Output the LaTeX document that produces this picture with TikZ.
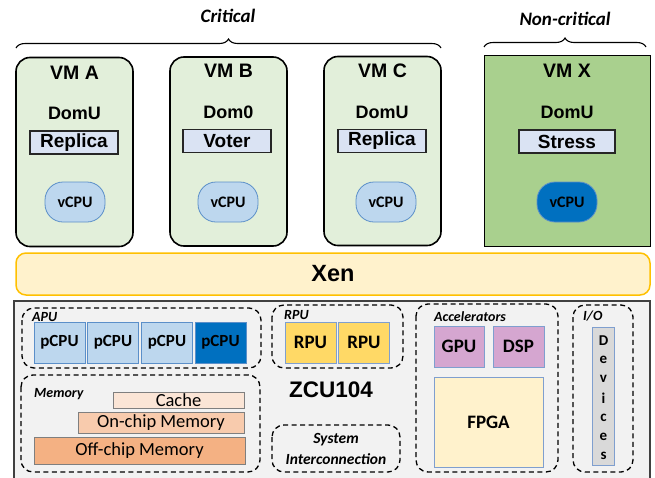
\documentclass[tikz,border=0pt]{standalone}
\usepackage{fontspec}
\setmainfont{Liberation Sans}
\newfontfamily\calfont{Carlito}
\usetikzlibrary{decorations.pathreplacing}
\definecolor{vmgreen}{HTML}{E2EFDA}
\definecolor{vmxgreen}{HTML}{A9D08E}
\definecolor{appblue}{HTML}{DAE3F3}
\definecolor{cpulight}{HTML}{BDD7EE}
\definecolor{cpudark}{HTML}{0070C0}
\definecolor{cpuedge}{HTML}{5B8FC9}
\definecolor{xenfill}{HTML}{FFF2CC}
\definecolor{xenedge}{HTML}{FFC000}
\definecolor{boardfill}{HTML}{F2F2F2}
\definecolor{rpufill}{HTML}{FFD966}
\definecolor{accfill}{HTML}{D5A6D0}
\definecolor{hwedge}{HTML}{7F9FCF}
\definecolor{devfill}{HTML}{D9D9D9}
\definecolor{cachefill}{HTML}{FBE5D6}
\definecolor{onchipfill}{HTML}{F8CBAD}
\definecolor{offchipfill}{HTML}{F4B183}
\definecolor{memedge}{HTML}{7F7F7F}
\newcommand{\fs}[1]{\fontsize{#1}{#1}\selectfont}
\tikzset{
  vmbox/.style={draw=black, line width=1.6pt, fill=vmgreen, rounded corners=14pt, minimum width=117pt, minimum height=189pt, inner sep=0pt},
  vmtitle/.style={font=\fs{19.5}\bfseries, inner sep=0pt},
  domlabel/.style={font=\fs{18}\bfseries, inner sep=0pt},
  appbox/.style={draw=black!85, line width=1.1pt, fill=appblue, minimum height=23pt, inner sep=0pt, font=\fs{19}\bfseries},
  vcpu/.style={draw=cpuedge, line width=0.8pt, fill=cpulight, rounded corners=18pt, minimum width=60pt, minimum height=40pt, inner sep=0pt, font=\calfont\fs{16}\bfseries},
  pcpu/.style={draw=cpuedge, line width=0.8pt, fill=cpulight, minimum width=51pt, minimum height=41pt, inner sep=0pt, font=\calfont\fs{17}\bfseries},
  rpubox/.style={draw=hwedge, line width=0.8pt, fill=rpufill, minimum width=51pt, minimum height=41pt, inner sep=0pt, font=\calfont\fs{19}\bfseries},
  accbox/.style={draw=hwedge, line width=0.8pt, fill=accfill, minimum width=51pt, minimum height=41pt, inner sep=0pt, font=\calfont\fs{19}\bfseries},
  membox/.style={draw=memedge, line width=0.8pt, inner sep=0pt, font=\calfont\fs{18.5}},
  group/.style={draw=black, line width=1.3pt, dash pattern=on 5pt off 3.5pt, rounded corners=12pt},
  grouplabel/.style={font=\calfont\fs{14}\bfseries\itshape, inner sep=0pt, anchor=west},
  toplabel/.style={font=\calfont\fs{19}\bfseries\itshape, inner sep=0pt},
  bracestyle/.style={draw=black, line width=1.1pt, decorate, decoration={brace, amplitude=9pt}}
}
\begin{document}
\begin{tikzpicture}[x=1pt, y=-1pt]
\useasboundingbox (0,0) rectangle (655,477);

% top labels and braces
\node[toplabel] (crit) at (228,16) {Critical};
\node[toplabel] (noncrit) at (565,19) {Non-critical};
\coordinate (cb1) at (16,48);
\coordinate (cb2) at (441,48);
\coordinate (nb1) at (484,47);
\coordinate (nb2) at (646,47);
\draw[bracestyle] (cb1) -- (cb2);
\draw[bracestyle] (nb1) -- (nb2);

% VMs
\node[vmbox] (vma) at (74.5,152) {};
\node[vmbox] (vmb) at (228.5,151.5) {};
\node[vmbox] (vmc) at (382.5,151) {};
\node[vmbox, fill=vmxgreen, line width=1pt, rounded corners=0pt, minimum width=166pt, minimum height=191pt] (vmx) at (567,150.5) {};

\node[vmtitle] (ta) at (74.5,72.5) {VM A};
\node[vmtitle] (tb) at (228.5,70.5) {VM B};
\node[vmtitle] (tc) at (382.5,71) {VM C};
\node[vmtitle] (tx) at (567,71) {VM X};

\node[domlabel] (da) at (74.5,113) {DomU};
\node[domlabel] (db) at (228.5,112) {Dom0};
\node[domlabel] (dc) at (382,112) {DomU};
\node[domlabel] (dx) at (567,112) {DomU};

\node[appbox, minimum width=88pt] (ra) at (74,142.5) {Replica};
\node[appbox, minimum width=88pt] (rb) at (227,141) {Voter};
\node[appbox, minimum width=88pt] (rc) at (382,141) {Replica};
\node[appbox, minimum width=96pt] (rx) at (567,141.5) {Stress};

\node[vcpu] (va) at (75,202) {vCPU};
\node[vcpu] (vb) at (228,202) {vCPU};
\node[vcpu] (vc) at (386,202) {vCPU};
\node[vcpu, fill=cpudark] (vx) at (567,202) {vCPU};

% Xen
\node[draw=xenedge, line width=1.5pt, fill=xenfill, rounded corners=10pt, minimum width=634pt, minimum height=42pt, inner sep=0pt, font=\fs{23.5}\bfseries] (xen) at (333,274) {Xen};

% board
\path[draw=black!75, line width=1.4pt, fill=boardfill] (14,490) -- (14,301) -- (650,301) -- (650,490);
\node[font=\fs{22.5}\bfseries, inner sep=0pt] (zcu) at (331,390) {ZCU104};

% APU
\draw[group] (22,308) rectangle (261,368);
\node[grouplabel] (apu) at (32,317) {APU};
\node[pcpu] (p1) at (59.5,342.5) {pCPU};
\node[pcpu] (p2) at (113,342.5) {pCPU};
\node[pcpu] (p3) at (167,342.5) {pCPU};
\node[pcpu, fill=cpudark] (p4) at (220.5,342.5) {pCPU};

% RPU
\draw[group] (272,305) rectangle (403,368);
\node[grouplabel] (rpu) at (284,315.5) {RPU};
\node[rpubox] (r1) at (310.5,342.5) {RPU};
\node[rpubox] (r2) at (364,342.5) {RPU};

% Memory
\draw[group] (21,375) rectangle (260,472);
\node[grouplabel] (mem) at (34,394) {Memory};
\node[membox, fill=cachefill, minimum width=131pt, minimum height=16pt] (cache) at (178.5,400) {Cache};
\node[membox, fill=onchipfill, minimum width=166pt, minimum height=21pt] (onchip) at (161,422.5) {On-chip Memory};
\node[membox, fill=offchipfill, minimum width=211pt, minimum height=27pt] (offchip) at (139.5,450.5) {Off-chip Memory};

% System interconnection
\draw[group] (272,425) rectangle (400,472);
\node[font=\calfont\fs{15.5}\bfseries\itshape, inner sep=0pt] (sys) at (336,440) {System};
\node[font=\calfont\fs{15.5}\bfseries\itshape, inner sep=0pt] (inter) at (336,459) {Interconnection};

% Accelerators
\draw[group] (416,304) rectangle (558,472);
\node[grouplabel] (acc) at (434,316.5) {Accelerators};
\node[accbox, minimum width=50pt] (gpu) at (459,346.5) {GPU};
\node[accbox, minimum width=51pt] (dsp) at (518.5,346.5) {DSP};
\node[draw=hwedge, line width=0.8pt, fill=xenfill, minimum width=109pt, minimum height=90pt, inner sep=0pt, font=\calfont\fs{19}\bfseries] (fpga) at (488.5,422) {FPGA};

% I/O
\draw[group] (573,305) rectangle (633,472);
\node[grouplabel] (io) at (583,316.5) {I/O};
\node[draw=hwedge, line width=0.8pt, fill=devfill, minimum width=22pt, minimum height=138pt, inner sep=0pt] (dev) at (603.5,396) {};
\foreach \ch [count=\i] in {D,e,v,i,c,e,s}
  \node[font=\calfont\fs{15}\bfseries, inner sep=0pt] (dl\i) at (603.5,321.5+19.2*\i) {\ch};
\end{tikzpicture}
\end{document}
